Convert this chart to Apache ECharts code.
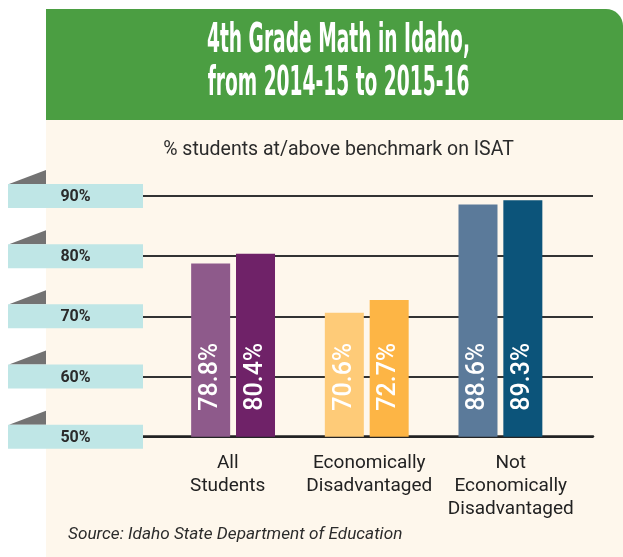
<!DOCTYPE html>
<html><head><meta charset="utf-8">
<script src="https://cdn.jsdelivr.net/npm/echarts@6/dist/echarts.min.js"></script>
<style>html,body{margin:0;padding:0;background:#fff}#c{width:623px;height:557px}</style>
</head><body><div id="c"></div>
<script>
// ---- data ----
const categories = ['All\nStudents', 'Economically\nDisadvantaged', 'Not\nEconomically\nDisadvantaged'];
const values2014 = [78.8, 70.6, 88.6];
const values2015 = [80.4, 72.7, 89.3];
const colors2014 = ['#8E5A8B', '#FECB78', '#5B7A9A'];
const colors2015 = ['#6F2268', '#FDB545', '#0C547A'];
const tickValues = [50, 60, 70, 80, 90];
const tickLabels = ['50%', '60%', '70%', '80%', '90%'];
const titleLines = ['4th Grade Math in Idaho,', 'from 2014-15 to 2015-16'];
const subtitle = '% students at/above benchmark on ISAT';
const source = 'Source: Idaho State Department of Education';

// ---- styling ----
const GRID_TOP = 196, GRID_BOTTOM = 120.3;
const titleFamily = '"Liberation Sans Narrow", "DejaVu Sans Condensed", sans-serif';
const titleSize = 41;
const cv = document.createElement('canvas').getContext('2d');
cv.font = 'bold ' + titleSize + 'px ' + titleFamily;
const sx = 263 / cv.measureText(titleLines[0]).width;

const chart = echarts.init(document.getElementById('c'), null, {renderer: 'canvas'});

const barLabel = {
  show: true, position: 'insideBottom', distance: 26, rotate: 90,
  align: 'left', verticalAlign: 'middle',
  formatter: p => p.value.toFixed(1) + '%',
  color: '#fff', fontSize: 25, fontWeight: 500, fontFamily: 'Roboto'
};

chart.setOption({
  animation: false,
  backgroundColor: '#fff',
  graphic: [
    {type: 'rect', z: -10, shape: {x: 46, y: 119, width: 577, height: 438}, style: {fill: '#FEF7EC'}},
    {type: 'rect', z: -10, shape: {x: 46, y: 9, width: 577, height: 111, r: [0, 17, 0, 0]}, style: {fill: '#4B9E42'}},
    {type: 'text', x: 338.5, y: 41, scaleX: sx, z: 10,
      style: {text: titleLines[0], x: 0, y: 0, textAlign: 'center', textVerticalAlign: 'middle',
        fill: '#fff', fontSize: titleSize, fontWeight: 'bold', fontFamily: titleFamily}},
    {type: 'text', x: 338.5, y: 84, scaleX: sx, z: 10,
      style: {text: titleLines[1], x: 0, y: 0, textAlign: 'center', textVerticalAlign: 'middle',
        fill: '#fff', fontSize: titleSize, fontWeight: 'bold', fontFamily: titleFamily}},
    {type: 'text', x: 338.5, y: 150, z: 10,
      style: {text: subtitle, textAlign: 'center', textVerticalAlign: 'middle',
        fill: '#2b2b2b', fontSize: 19.5, fontFamily: 'Roboto'}},
    {type: 'text', x: 68, y: 535, z: 10,
      style: {text: source, textAlign: 'left', textVerticalAlign: 'middle',
        fill: '#2b2b2b', fontSize: 17.2, fontStyle: 'italic', fontFamily: 'Roboto'}}
  ],
  grid: [
    {left: 143, right: 30, top: GRID_TOP, bottom: GRID_BOTTOM},
    {left: 166.25, width: 401, top: GRID_TOP, bottom: GRID_BOTTOM},
    {left: 157, width: 424.5, top: GRID_TOP, bottom: GRID_BOTTOM}
  ],
  xAxis: [
    {gridIndex: 0, type: 'value', min: 0, max: 1, show: true,
      axisLine: {show: true, onZero: false, lineStyle: {color: '#222', width: 2.5}},
      axisTick: {show: false}, axisLabel: {show: false}, splitLine: {show: false}},
    {gridIndex: 1, type: 'category', data: categories, show: false},
    {gridIndex: 2, type: 'category', data: categories,
      axisLine: {show: false}, axisTick: {show: false}, splitLine: {show: false},
      axisLabel: {show: true, interval: 0, margin: 15, color: '#222', fontSize: 19,
        lineHeight: 23, fontFamily: 'Roboto', align: 'center'}}
  ],
  yAxis: [
    {gridIndex: 0, type: 'value', min: 50, max: 90, interval: 10,
      axisLine: {show: false}, axisTick: {show: false}, axisLabel: {show: false},
      splitLine: {show: true, lineStyle: {color: '#333', width: 1.8}}},
    {gridIndex: 1, type: 'value', min: 50, max: 90, interval: 10, show: false, splitLine: {show: false}},
    {gridIndex: 2, type: 'value', min: 50, max: 90, interval: 10, show: false, splitLine: {show: false}}
  ],
  series: [
    {
      name: '2014-15', type: 'bar', xAxisIndex: 1, yAxisIndex: 1,
      barWidth: 39, barGap: '15%',
      data: values2014.map((v, i) => ({value: v, itemStyle: {color: colors2014[i]}})),
      label: barLabel
    },
    {
      name: '2015-16', type: 'bar', xAxisIndex: 1, yAxisIndex: 1,
      barWidth: 39, barGap: '15%',
      data: values2015.map((v, i) => ({value: v, itemStyle: {color: colors2015[i]}})),
      label: barLabel
    },
    {
      name: 'ticks', type: 'custom', xAxisIndex: 0, yAxisIndex: 0, clip: false, z: 5,
      data: tickValues.map((v, i) => [0, v, i]),
      renderItem: function (params, api) {
        const y = api.coord([0, api.value(1)])[1];
        const idx = api.value(2);
        return {
          type: 'group',
          children: [
            {type: 'polygon', shape: {points: [[9, y - 12], [46, y - 26], [46, y - 12]]}, style: {fill: '#737373'}},
            {type: 'rect', shape: {x: 8, y: y - 12, width: 135, height: 24}, style: {fill: '#BFE6E6'}},
            {type: 'text', style: {text: tickLabels[idx], x: 75.5, y: y + 1, textAlign: 'center',
              textVerticalAlign: 'middle', fill: '#2a2a2a', fontSize: 16, fontWeight: 'bold', fontFamily: 'Roboto'}}
          ]
        };
      }
    }
  ]
});
</script></body></html>
